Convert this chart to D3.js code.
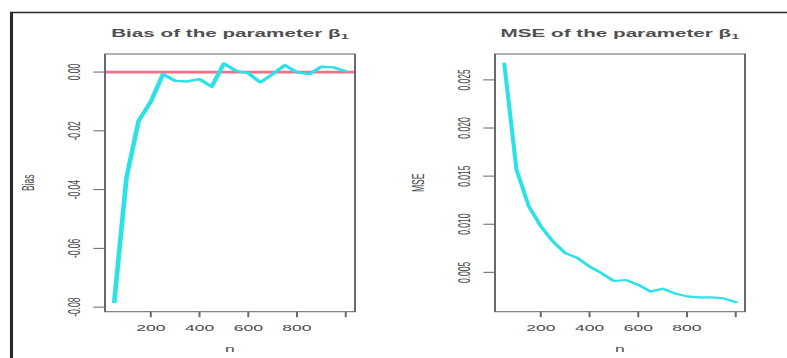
<!DOCTYPE html>
<html>
<head>
<meta charset="utf-8">
<script src="https://cdn.jsdelivr.net/npm/d3@7"></script>
<style>
body { margin: 0; background: #fff; }
text { font-family: "Liberation Sans", Arial, sans-serif; fill: #4a4a4a; }
</style>
</head>
<body>
<div class="container"></div>
<script>
var WIDTH = 787, HEIGHT = 358;
// the picture is stretched sideways, so everything is drawn narrow and scaled
var SX = 1.95;
var BOX_TOP = 54, BOX_BOTTOM = 311.7, BOX_W = 250;

var nValues = [50, 100, 150, 200, 250, 300, 350, 400, 450, 500,
               550, 600, 650, 700, 750, 800, 850, 900, 950, 1000];
var biasValues = [-0.0783, -0.0360, -0.0166, -0.0101, -0.0007, -0.0030, -0.0032, -0.0024, -0.0050, 0.0029,
                  0.0004, -0.0004, -0.0035, -0.0007, 0.0023, -0.0001, -0.0007, 0.0018, 0.0016, 0.0003];
var mseValues = [0.0267, 0.0157, 0.0119, 0.0098, 0.0082, 0.0070, 0.0065, 0.0056, 0.0049, 0.0041,
                 0.0042, 0.0037, 0.0030, 0.0033, 0.0028, 0.0025, 0.0024, 0.0024, 0.0023, 0.0019];

var xTicks = [200, 400, 600, 800, 1000];
var xTickLabels = ["200", "400", "600", "800", ""];
var biasTicks = [-0.08, -0.06, -0.04, -0.02, 0];
var biasTickLabels = ["-0.08", "-0.06", "-0.04", "-0.02", "0.00"];
var mseTicks = [0.005, 0.010, 0.015, 0.020, 0.025];
var mseTickLabels = ["0.005", "0.010", "0.015", "0.020", "0.025"];

var panels = [
	{left: 105, values: biasValues, ticks: biasTicks, labels: biasTickLabels,
	 title: "Bias of the parameter ", ylab: "Bias", refLine: 0, lw: 2.4},
	{left: 495, values: mseValues, ticks: mseTicks, labels: mseTickLabels,
	 title: "MSE of the parameter ", ylab: "MSE", refLine: null, lw: 2.1}
];

// R style axis range, 4% on each side
var pad = function(ext){
	var d = (ext[1] - ext[0]) * 0.04;
	return [ext[0] - d, ext[1] + d];
}

var svg = d3.select(".container").append("svg")
	.attr("width", WIDTH)
	.attr("height", HEIGHT);

var root = svg.append("g").attr("transform", "scale(" + SX + ",1)");

// outer frame
root.append("path")
	.attr("d", "M" + (WIDTH / SX) + ",12.5 L" + (11.5 / SX) + ",12.5 L" + (11.5 / SX) + "," + HEIGHT)
	.attr("fill", "none")
	.attr("stroke", "#2a2a2a")
	.attr("stroke-width", 1.6);

var drawPanel = function(p){
	var x0 = p.left / SX, x1 = (p.left + BOX_W) / SX;
	var x = d3.scaleLinear().domain(pad(d3.extent(nValues))).range([x0, x1]);
	var y = d3.scaleLinear().domain(pad(d3.extent(p.values))).range([BOX_BOTTOM, BOX_TOP]);
	var g = root.append("g");

	if (p.refLine !== null) {
		g.append("line")
			.attr("x1", x0).attr("x2", x1)
			.attr("y1", y(p.refLine)).attr("y2", y(p.refLine))
			.attr("stroke", "#ef7088")
			.attr("stroke-width", 2.8);
	}

	g.append("path")
		.datum(p.values)
		.attr("d", d3.line().x(function(d, i){ return x(nValues[i]); }).y(function(d){ return y(d); }))
		.attr("fill", "none")
		.attr("stroke", "#2ce2e6")
		.attr("stroke-width", p.lw)
		.attr("stroke-linejoin", "round")
		.attr("stroke-linecap", "round");

	g.append("rect")
		.attr("x", x0).attr("y", BOX_TOP)
		.attr("width", x1 - x0).attr("height", BOX_BOTTOM - BOX_TOP)
		.attr("fill", "none")
		.attr("stroke", "#666")
		.attr("stroke-width", 1);

	// x axis
	xTicks.forEach(function(t, i){
		g.append("line")
			.attr("x1", x(t)).attr("x2", x(t))
			.attr("y1", BOX_BOTTOM).attr("y2", BOX_BOTTOM + 5.5)
			.attr("stroke", "#666");
		g.append("text")
			.attr("x", x(t)).attr("y", 331)
			.attr("text-anchor", "middle")
			.attr("font-size", 9)
			.text(xTickLabels[i]);
	});

	// y axis
	p.ticks.forEach(function(t, i){
		g.append("line")
			.attr("x1", x0).attr("x2", x0 - 6)
			.attr("y1", y(t)).attr("y2", y(t))
			.attr("stroke", "#666");
		g.append("text")
			.attr("transform", "translate(" + ((p.left - 25.5) / SX) + "," + y(t) + ") rotate(-90)")
			.attr("text-anchor", "middle")
			.attr("font-size", 8.5)
			.text(p.labels[i]);
	});

	var title = g.append("text")
		.attr("x", (x0 + x1) / 2).attr("y", 37)
		.attr("text-anchor", "middle")
		.attr("font-size", 10.6)
		.attr("font-weight", "bold")
		.style("fill", "#505050");
	title.append("tspan").text(p.title + "\u03b2");
	title.append("tspan").attr("dy", 2.5).attr("font-size", 7.5).text("1");

	g.append("text")
		.attr("x", (x0 + x1) / 2).attr("y", 352)
		.attr("text-anchor", "middle")
		.attr("font-size", 9)
		.text("n");

	g.append("text")
		.attr("transform", "translate(" + ((p.left - 71) / SX) + "," + ((BOX_TOP + BOX_BOTTOM) / 2) + ") rotate(-90)")
		.attr("text-anchor", "middle")
		.attr("font-size", 8.5)
		.text(p.ylab);
}

panels.forEach(drawPanel);
</script>
</body>
</html>
